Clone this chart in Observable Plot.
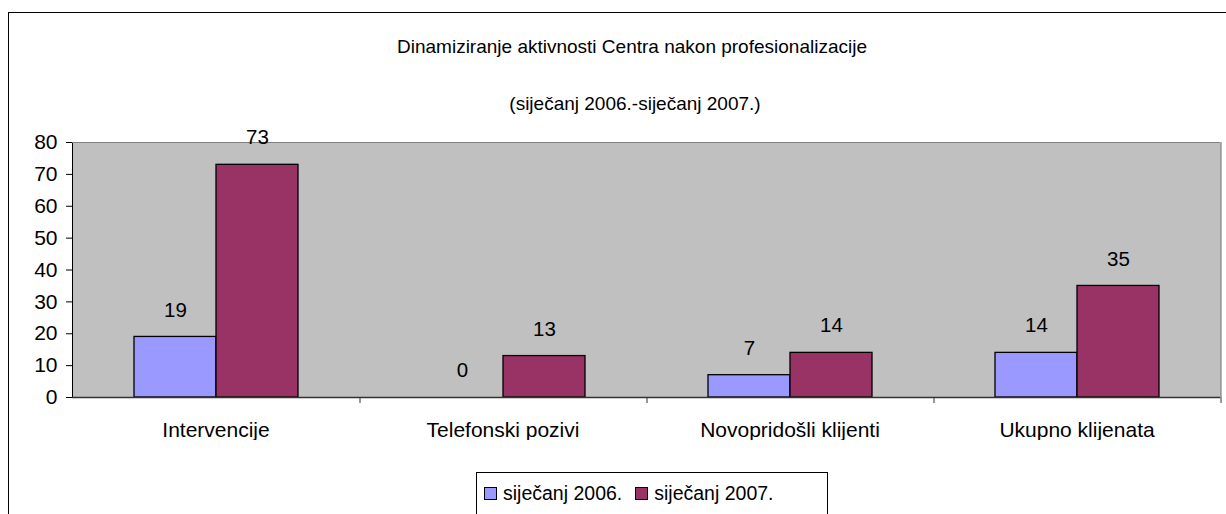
<!DOCTYPE html>
<html>
<head>
<meta charset="utf-8">
<script src="https://cdn.jsdelivr.net/npm/d3@7"></script>
<script src="https://cdn.jsdelivr.net/npm/@observablehq/plot@0.6"></script>
<style>
  html, body { margin: 0; padding: 0; background: #fff; }
  body { width: 1226px; height: 514px; position: relative; overflow: hidden; font-family: "Liberation Sans", Arial, sans-serif; }
  #frame { position: absolute; left: 8px; top: 12px; width: 1240px; height: 520px; border-left: 1px solid #000; border-top: 1px solid #000; }
  .ttl { position: absolute; width: 800px; text-align: center; font-size: 19px; line-height: 22px; color: #000; }
  #chart { position: absolute; left: 0; top: 120px; }
  #legend { position: absolute; left: 476px; top: 472px; width: 350px; height: 60px; border: 1px solid #000; background: #fff; font-size: 19.5px; }
  #legend .row { display: flex; align-items: center; padding-left: 7px; height: 40px; }
  #legend .sw { width: 11px; height: 11px; border: 1px solid #000; margin-right: 6px; }
  #legend .lab { margin-right: 13px; }
</style>
</head>
<body>
<div id="frame"></div>
<div class="ttl" id="title" style="left:232px; top:36px;"></div>
<div class="ttl" id="subtitle" style="left:235px; top:93px;"></div>
<div id="chart"></div>
<div id="legend"><div class="row" id="legrow"></div></div>
<script>
const titleText = "Dinamiziranje aktivnosti Centra nakon profesionalizacije";
const subtitleText = "(siječanj 2006.-siječanj 2007.)";
const categories = ["Intervencije", "Telefonski pozivi", "Novopridošli klijenti", "Ukupno klijenata"];
const series = ["siječanj 2006.", "siječanj 2007."];
const values2006 = [19, 0, 7, 14];
const values2007 = [73, 13, 14, 35];
const yTicks = [0, 10, 20, 30, 40, 50, 60, 70, 80];
const colors = ["#9999FF", "#993366"];

document.getElementById("title").textContent = titleText;
document.getElementById("subtitle").textContent = subtitleText;

const rows = [];
categories.forEach((c, i) => {
  rows.push({category: c, series: series[0], value: values2006[i]});
  rows.push({category: c, series: series[1], value: values2007[i]});
});

const axisColor = "#333333";
const borderColor = "#808080";
const halfGroup = 41 + 61.5; // from band center of 2nd series to facet right edge

const chart = Plot.plot({
  width: 1226,
  height: 320,
  marginLeft: 72,
  marginRight: 6,
  marginTop: 22,
  marginBottom: 43,
  style: {fontFamily: "Liberation Sans, Arial, sans-serif", fontSize: "21px", color: "#000", background: "transparent"},
  fx: {domain: categories, padding: 0, label: null, axis: "bottom", tickSize: 0, tickPadding: 25},
  x: {domain: series, paddingInner: 0, paddingOuter: 0.75, axis: null},
  y: {domain: [0, 80], ticks: yTicks, label: null, tickSize: 6, tickPadding: 9, line: true},
  color: {domain: series, range: colors},
  marks: [
    Plot.frame({fill: "#C0C0C0", stroke: "none", shapeRendering: "crispEdges"}),
    Plot.ruleY([80], {stroke: borderColor, strokeWidth: 1.2}),
    Plot.ruleX([categories[categories.length - 1]], {fx: d => d, x: () => series[1], dx: halfGroup, y1: 0, y2: 80, stroke: borderColor, strokeWidth: 1.2}),
    Plot.barY(rows, {fx: "category", x: "series", y: "value", fill: "series", stroke: "#000", strokeWidth: 1.3}),
    Plot.ruleY([0], {stroke: axisColor, strokeWidth: 1.3}),
    Plot.ruleX(categories, {fx: d => d, x: () => series[1], dx: halfGroup, y1: 0, y2: 0, insetBottom: -6, stroke: axisColor}),
    Plot.text(rows, {fx: "category", x: "series", y: "value", text: d => String(d.value), dy: -27, fill: "#000", fontSize: 20.5})
  ]
});
document.getElementById("chart").appendChild(chart);

const legrow = document.getElementById("legrow");
series.forEach((s, i) => {
  const sw = document.createElement("span");
  sw.className = "sw";
  sw.style.background = colors[i];
  const lab = document.createElement("span");
  lab.className = "lab";
  lab.textContent = s;
  legrow.appendChild(sw);
  legrow.appendChild(lab);
});
</script>
</body>
</html>
